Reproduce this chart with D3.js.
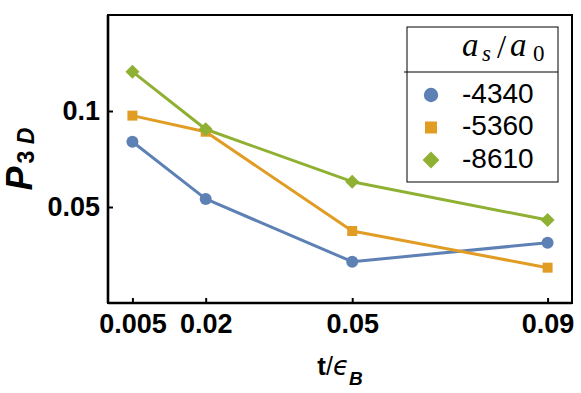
<!DOCTYPE html>
<html><head><meta charset="utf-8">
<script src="https://cdn.jsdelivr.net/npm/d3@7"></script>
<style>body{margin:0;background:#fff}svg{display:block}</style>
</head><body>
<script>
const xValues = [0.005, 0.02, 0.05, 0.09];
const xTickLabels = ["0.005", "0.02", "0.05", "0.09"];
const yTicks = [0.05, 0.1];
const yTickLabels = ["0.05", "0.1"];
const seriesNames = ["-4340", "-5360", "-8610"];
const series4340 = [0.0840, 0.0542, 0.0215, 0.0314];
const series5360 = [0.0976, 0.0892, 0.0375, 0.0184];
const series8610 = [0.1205, 0.0905, 0.0632, 0.0432];
const colors = ["#5E81B5", "#E19C24", "#8FB032"];
const shapes = ["circle", "square", "diamond"];

const W = 581, H = 393;
const L = 108, R = 572, T = 15, B = 303;
const svg = d3.select("body").append("svg").attr("width", W).attr("height", H);
const x = d3.scaleLinear().domain([0, 0.095]).range([L, R]);
const y = d3.scaleLinear().domain([0, 0.15]).range([B, T]);
const sans = "Liberation Sans, Arial, sans-serif";

const allSeries = [series4340, series5360, series8610];

// frame
svg.append("rect").attr("x", L).attr("y", T).attr("width", R - L).attr("height", B - T)
  .attr("fill", "none").attr("stroke", "#000").attr("stroke-width", 2);
svg.append("line").attr("x1", L).attr("x2", L).attr("y1", T).attr("y2", B).attr("stroke", "#000").attr("stroke-width", 2.6);
svg.append("line").attr("x1", L).attr("x2", R).attr("y1", B).attr("y2", B).attr("stroke", "#000").attr("stroke-width", 2.6);

// axes
const xAxis = d3.axisBottom(x).tickValues(xValues).tickFormat((d, i) => xTickLabels[i]).tickSizeInner(-5).tickSizeOuter(0).tickPadding(11);
const gx = svg.append("g").attr("transform", `translate(0,${B})`).call(xAxis);
gx.select(".domain").remove();
gx.selectAll(".tick line").attr("stroke", "#000").attr("stroke-width", 2);
gx.selectAll(".tick text").attr("font-family", sans).attr("font-weight", "bold").attr("font-size", 27).attr("fill", "#000");

const yAxis = d3.axisLeft(y).tickValues(yTicks).tickFormat((d, i) => yTickLabels[i]).tickSizeInner(-5).tickSizeOuter(0).tickPadding(8);
const gy = svg.append("g").attr("transform", `translate(${L},0)`).call(yAxis);
gy.select(".domain").remove();
gy.selectAll(".tick line").attr("stroke", "#000").attr("stroke-width", 2);
gy.selectAll(".tick text").attr("font-family", sans).attr("font-weight", "bold").attr("font-size", 27).attr("fill", "#000");

// lines
const line = d3.line().x((d, i) => x(xValues[i])).y(d => y(d));
allSeries.forEach((s, k) => {
  svg.append("path").attr("d", line(s)).attr("fill", "none").attr("stroke", colors[k]).attr("stroke-width", 3).attr("stroke-linejoin", "round");
});
function drawMarker(g, shape, cx, cy, color, scale) {
  if (shape === "circle") g.append("circle").attr("cx", cx).attr("cy", cy).attr("r", 6 * scale).attr("fill", color);
  else if (shape === "square") { const s = 10 * scale; g.append("rect").attr("x", cx - s / 2).attr("y", cy - s / 2).attr("width", s).attr("height", s).attr("fill", color); }
  else { const s = 7 * scale; g.append("path").attr("d", `M${cx},${cy - s}L${cx + s},${cy}L${cx},${cy + s}L${cx - s},${cy}Z`).attr("fill", color); }
}
allSeries.forEach((s, k) => {
  s.forEach((v, i) => drawMarker(svg, shapes[k], x(xValues[i]), y(v), colors[k], 1));
});

// legend
const lg = svg.append("g");
lg.append("rect").attr("x", 407).attr("y", 27).attr("width", 151).attr("height", 155).attr("fill", "#fff").attr("stroke", "#000").attr("stroke-width", 1);
lg.append("line").attr("x1", 404).attr("x2", 558).attr("y1", 72).attr("y2", 72).attr("stroke", "#000").attr("stroke-width", 1);
const serif = "Liberation Serif, DejaVu Serif, serif";
const hdrParts = [
  {t: "a", x: 462, y: 56, size: 33, it: true},
  {t: "s", x: 482, y: 61, size: 23, it: true},
  {t: "/", x: 497, y: 58, size: 33, it: false},
  {t: "a", x: 510, y: 56, size: 33, it: true},
  {t: "0", x: 533, y: 61, size: 23, it: false}
];
hdrParts.forEach(p => {
  lg.append("text").attr("x", p.x).attr("y", p.y).attr("font-family", serif).attr("font-size", p.size)
    .attr("font-style", p.it ? "italic" : "normal").attr("fill", "#000").text(p.t);
});
seriesNames.forEach((n, k) => {
  const cy = 95 + k * 32.5;
  drawMarker(lg, shapes[k], 431, cy, colors[k], 1.2);
  lg.append("text").attr("x", 462).attr("y", cy + 7.5).attr("font-family", sans).attr("font-size", 28).attr("fill", "#000").text(n);
});

// x title
const xt = svg.append("text").attr("x", 340).attr("y", 375).attr("text-anchor", "middle")
  .attr("font-family", sans).attr("font-size", 25).attr("fill", "#000");
xt.append("tspan").attr("font-weight", "bold").attr("font-size", 26).text("t");
xt.append("tspan").attr("font-size", 25).text("/");
xt.append("tspan").attr("font-family", "DejaVu Sans, sans-serif").attr("font-style", "italic").attr("font-size", 26).text("ϵ");
xt.append("tspan").attr("font-weight", "bold").attr("font-style", "italic").attr("font-size", 19).attr("dy", 10).text("B");

// y title
const yt = svg.append("text").attr("transform", "translate(32,159) rotate(-90)").attr("text-anchor", "middle")
  .attr("font-family", sans).attr("font-size", 36).attr("font-weight", "bold").attr("fill", "#000");
yt.append("tspan").attr("font-style", "italic").text("P");
yt.append("tspan").attr("font-size", 23).attr("dy", 2).attr("dx", 3).text("3 ");
yt.append("tspan").attr("font-size", 23).attr("font-style", "italic").text("D");
</script>
</body></html>
